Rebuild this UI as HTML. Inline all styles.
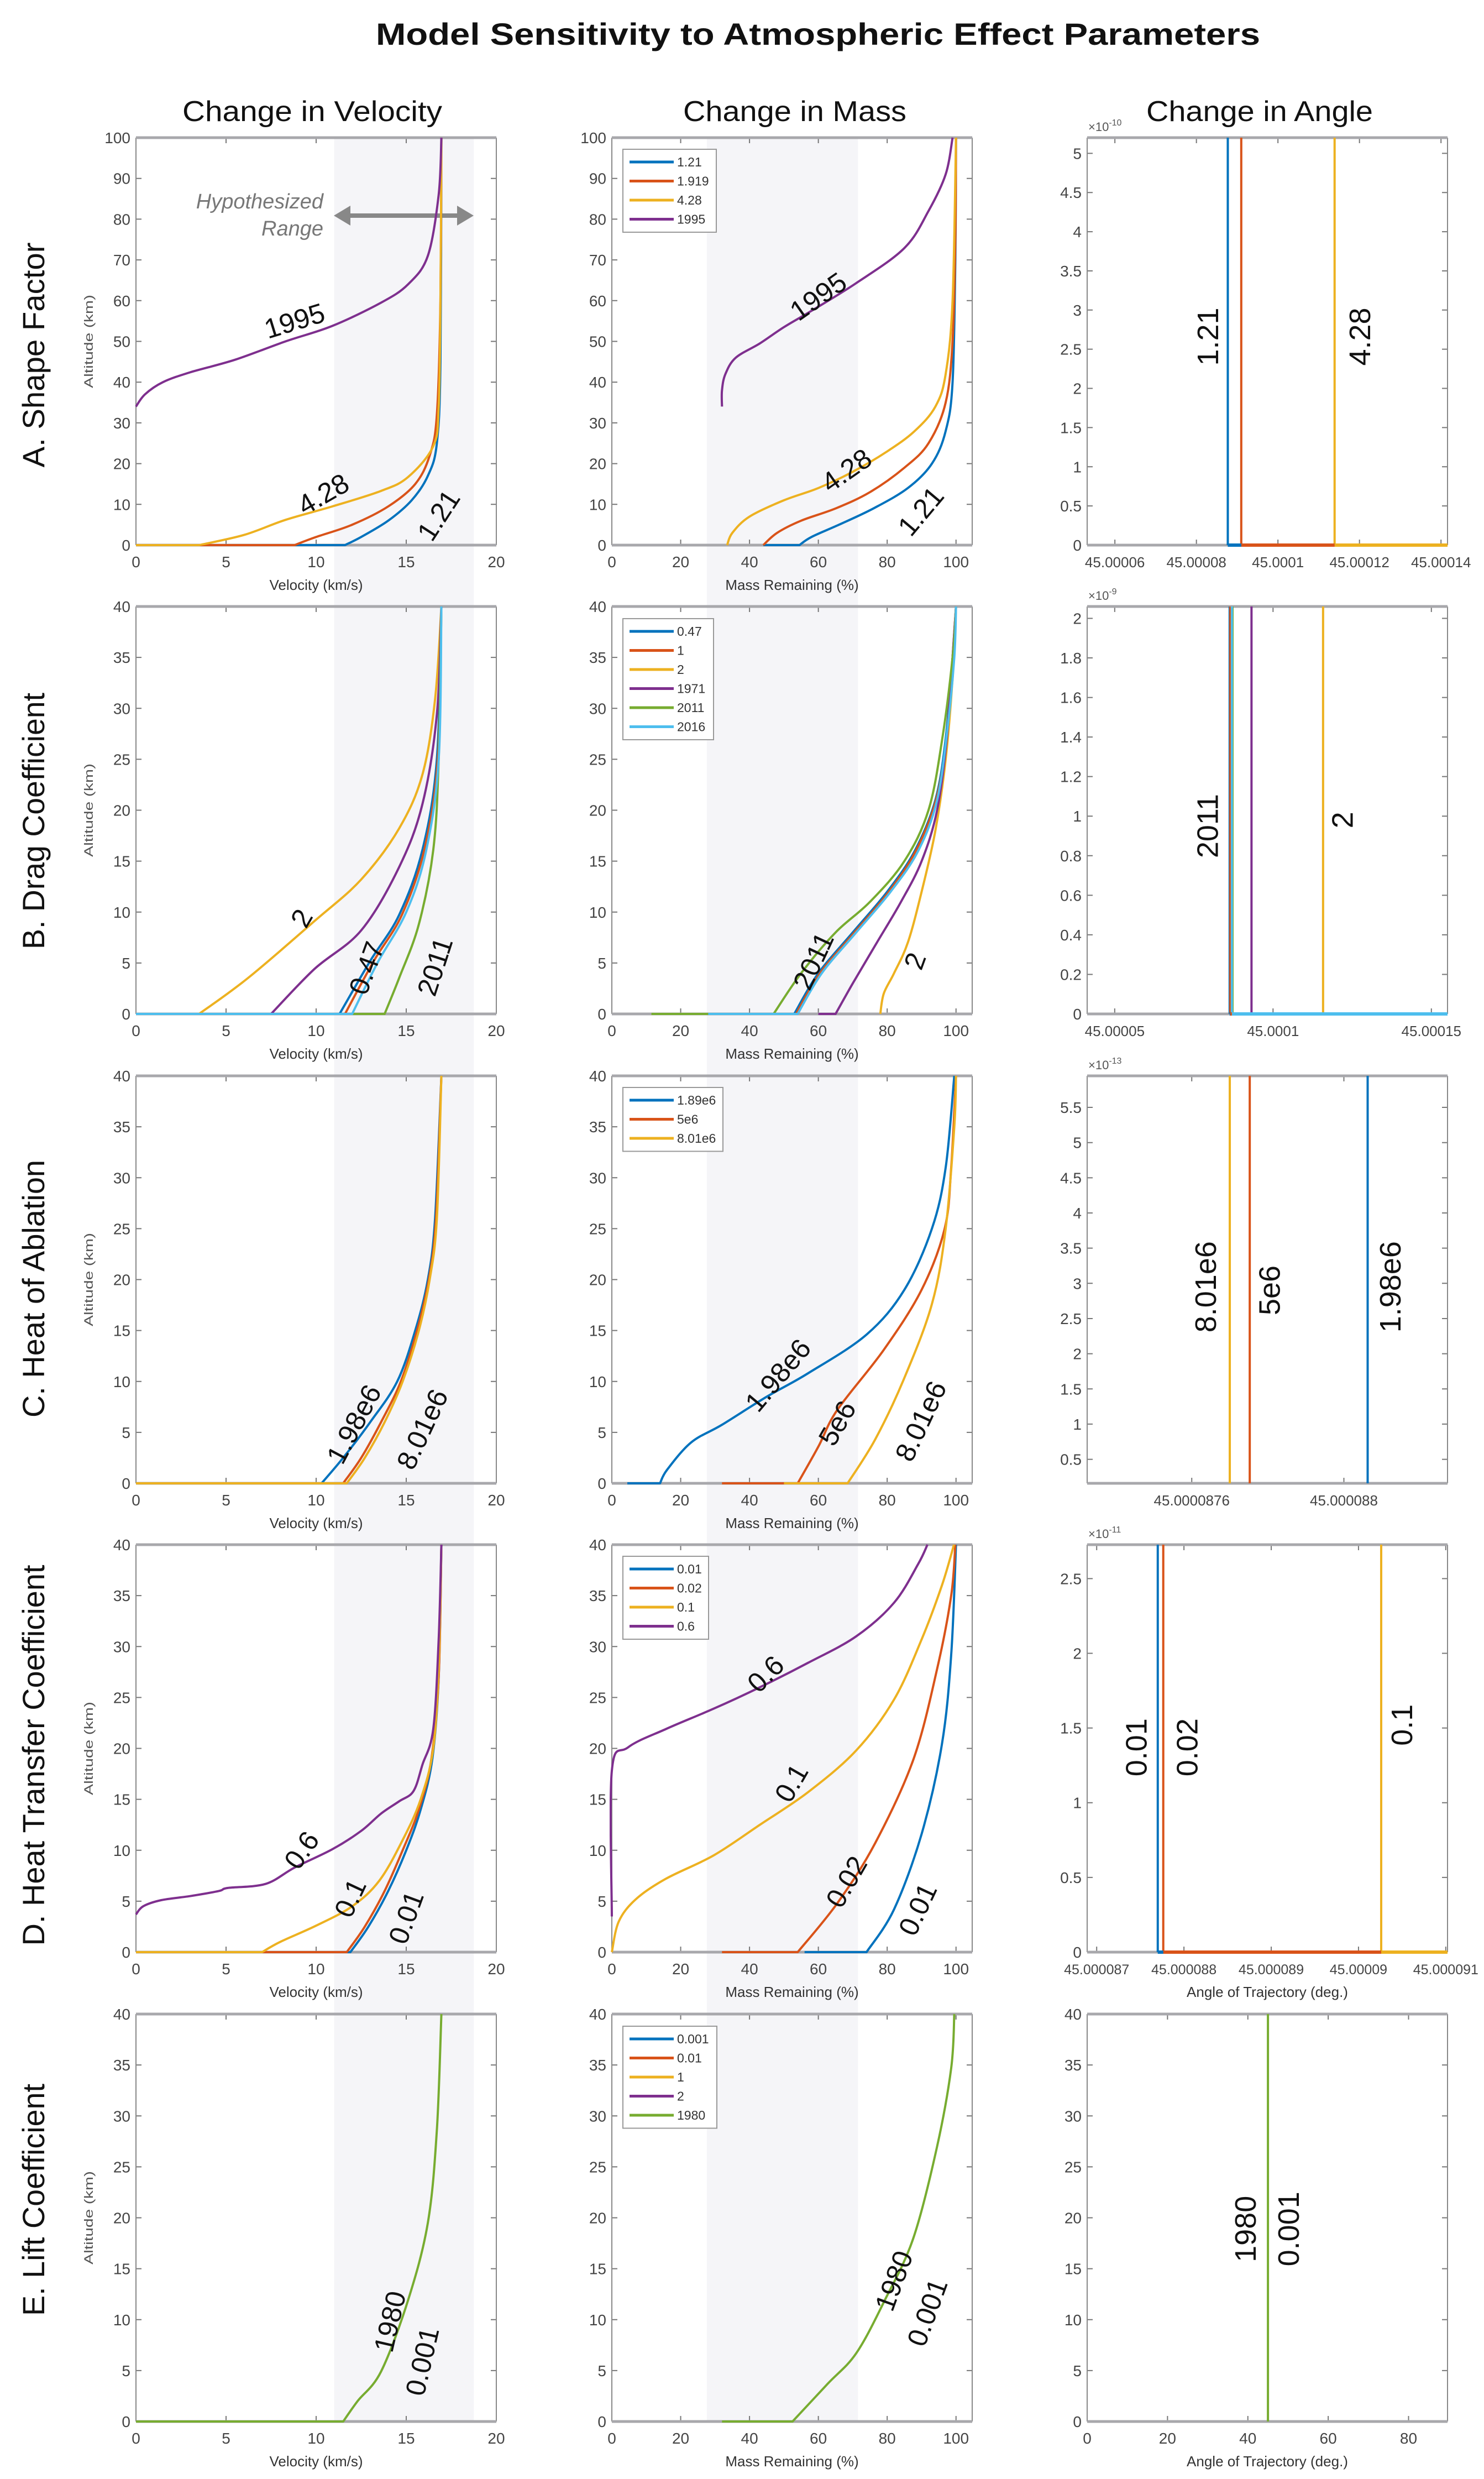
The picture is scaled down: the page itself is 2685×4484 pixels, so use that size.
<!DOCTYPE html>
<html><head><meta charset="utf-8"><title>Model Sensitivity</title>
<style>
html,body{margin:0;padding:0;background:#fff;}
svg{display:block;font-family:"Liberation Sans",Arial,sans-serif;}
</style></head>
<body>
<svg id="fig" xmlns="http://www.w3.org/2000/svg" width="2685" height="4484" viewBox="0 0 2685 4484">
<rect x="0" y="0" width="2685" height="4484" fill="#fff"/>
<g id="bands"></g>
<text x="1480" y="81" text-anchor="middle" font-size="56" font-weight="bold" fill="#111" textLength="1600" lengthAdjust="spacingAndGlyphs">Model Sensitivity to Atmospheric Effect Parameters</text>
<text x="565" y="219" text-anchor="middle" font-size="52" fill="#111" textLength="470" lengthAdjust="spacingAndGlyphs">Change in Velocity</text>
<text x="1438" y="219" text-anchor="middle" font-size="52" fill="#111" textLength="404" lengthAdjust="spacingAndGlyphs">Change in Mass</text>
<text x="2279" y="219" text-anchor="middle" font-size="52" fill="#111" textLength="410" lengthAdjust="spacingAndGlyphs">Change in Angle</text>
<text transform="translate(80,642) rotate(-90)" text-anchor="middle" font-size="56" fill="#111" textLength="407" lengthAdjust="spacingAndGlyphs">A. Shape Factor</text>
<text transform="translate(80,1485) rotate(-90)" text-anchor="middle" font-size="56" fill="#111" textLength="464" lengthAdjust="spacingAndGlyphs">B. Drag Coefficient</text>
<text transform="translate(80,2331) rotate(-90)" text-anchor="middle" font-size="56" fill="#111" textLength="466" lengthAdjust="spacingAndGlyphs">C. Heat of Ablation</text>
<text transform="translate(80,3175) rotate(-90)" text-anchor="middle" font-size="56" fill="#111" textLength="689" lengthAdjust="spacingAndGlyphs">D. Heat Transfer Coefficient</text>
<text transform="translate(80,3979) rotate(-90)" text-anchor="middle" font-size="56" fill="#111" textLength="420" lengthAdjust="spacingAndGlyphs">E. Lift Coefficient</text>
<g>
<text x="585" y="377" text-anchor="end" font-size="38" font-style="italic" fill="#777">Hypothesized</text>
<text x="585" y="426" text-anchor="end" font-size="38" font-style="italic" fill="#777">Range</text>
<line x1="628" y1="390" x2="833" y2="390" stroke="#888" stroke-width="8"/>
<polygon points="604,390 634,372 634,408" fill="#888"/>
<polygon points="857,390 827,372 827,408" fill="#888"/>
</g>
<g id="panels"></g>
</svg>
<script>
// ---------- data ----------
const C={blue:'#0072BD',orange:'#D95319',yellow:'#EDB120',purple:'#7E2F8E',green:'#77AC30',cyan:'#4DBEEE'};
// Row A: shape factor
const aCats=['1.21','1.919','4.28','1995'];
const aVel_121=[[0,0],[11.6,0],[12.5,2],[14,6],[15.3,11],[16.2,17],[16.7,25],[16.9,45],[16.95,100]];
const aVel_1919=[[0,0],[8.8,0],[10,2],[12,5],[14,9.5],[15.5,15],[16.3,22],[16.7,32],[16.9,60],[16.95,100]];
const aVel_428=[[0,0],[3.5,0],[6,2.5],[8.3,6.2],[10.9,9.5],[13.6,13.3],[15.1,16.7],[16.5,24.3],[16.8,33.8],[16.9,60],[16.95,100]];
const aVel_1995=[[0,34],[0.5,37],[1.5,40],[3,42.4],[5.5,45.5],[8.3,50],[10.9,53.8],[13.6,59.5],[15.1,64],[16.2,71],[16.8,86],[16.95,100]];
const aMass_121=[[44,0],[54.5,0],[58,2],[66,5],[76,9],[86,14],[93,20],[97,28],[99,40],[99.8,70],[100,100]];
const aMass_1919=[[44,0],[48,3],[55,6],[65,9],[75,13],[85,19],[92,25],[97,35],[99,50],[99.8,75],[100,100]];
const aMass_428=[[33.5,0],[35,3],[40,7],[50,11],[60,14],[70,18],[80,23],[88,28],[94,34],[97,42],[99,60],[100,100]];
const aMass_1995=[[32,34],[32,38],[33,42],[36,46],[43,49.5],[50,53.5],[58,57.5],[71,64.3],[85,72.9],[92,82],[97,91],[99,100]];
const aAng=[8.77,9.10,11.39];
// Row B: drag coefficient
const bCats=['0.47','1','2','1971','2011','2016'];
const bVel_047=[[0,0],[11.3,0],[13.0,5.2],[14.6,9.7],[15.9,16.1],[16.7,25],[16.95,40]];
const bVel_1=[[0,0],[11.6,0],[13.2,5.2],[14.75,9.7],[16.0,16.1],[16.75,25],[16.95,40]];
const bVel_2=[[0,0],[3.5,0],[6.2,3.5],[9.9,9.1],[12.5,13.2],[14.6,18.2],[15.9,23.5],[16.6,30.9],[16.95,40]];
const bVel_1971=[[0,0],[7.5,0],[9.9,4.4],[12.5,8.2],[14.6,14.4],[15.9,20.6],[16.7,29.4],[16.95,40]];
const bVel_2011=[[0,0],[13.8,0],[14.6,3.5],[15.7,8.8],[16.5,16.1],[16.8,25],[16.95,40]];
const bVel_2016=[[0,0],[12,0],[13.4,5],[15,10],[16.1,16],[16.8,25],[16.95,40]];
const bMass_047=[[53,0],[60,4],[70,8],[80,12],[88,16],[94,21],[97,27],[99,35],[100,40]];
const bMass_1=[[53.5,0],[60.5,4],[70.5,8],[80.5,12],[88.3,16],[94.2,21],[97.2,27],[99,35],[100,40]];
const bMass_2=[[78,0],[79,2],[82,4],[86,7],[90,12],[94,18],[97,25],[99,33],[100,40]];
const bMass_1971=[[60,0],[65,0],[70,3],[77,7],[84,11],[90,15],[94.5,20],[97.3,27],[99,35],[100,40]];
const bMass_2011=[[11.5,0],[47,0],[55,4],[65,8],[75,11],[85,15],[92,20],[96,27],[99,35],[100,40]];
const bMass_2016=[[28,0],[54,0],[61,4],[71,8],[81,12],[89,16],[94.5,21],[97.5,28],[99.5,35],[100,40]];
const bAng=[8.63,8.65,11.58,9.32,8.72,8.70];
// Row C: heat of ablation
const cCats=['1.89e6','5e6','8.01e6'];
const cVel_198=[[0,0],[10.3,0],[11.5,2.5],[13,6],[14.5,10],[15.5,15],[16.2,20],[16.6,26],[16.95,40]];
const cVel_5=[[0,0],[11.5,0],[12.5,2.5],[13.6,6],[14.7,10],[15.6,15],[16.25,20],[16.65,26],[16.95,40]];
const cVel_801=[[0,0],[11.7,0],[12.7,2.5],[13.8,6],[14.8,10],[15.7,15],[16.3,20],[16.7,26],[16.95,40]];
const cMass_198=[[4.5,0],[14,0],[16,1.3],[23,4],[32,5.75],[45,8.5],[57,10.8],[74,14.6],[85,19],[93,25],[97,31],[99.5,40]];
const cMass_5=[[32,0],[54,0],[60,3.6],[65.5,7.2],[79,13.1],[90,19],[96.7,25],[98.6,31],[100,40]];
const cMass_801=[[50,0],[68.5,0],[76.5,4.3],[84.8,10.2],[93,17.6],[97,25],[99.5,35],[100,40]];
const cAng=[8.0625,7.7525,7.7];
// Row D: heat transfer coefficient
const dCats=['0.01','0.02','0.1','0.6'];
const dVel_001=[[0,0],[11.9,0],[12.9,2.5],[14,6],[15,10],[15.8,14],[16.45,19],[16.8,27],[16.95,40]];
const dVel_002=[[0,0],[11.7,0],[12.7,2.5],[13.8,6],[14.8,10],[15.7,14],[16.4,19],[16.8,27],[16.95,40]];
const dVel_01=[[0,0],[7,0],[8,1],[10,2.6],[12,4.5],[13.5,7],[14.8,11],[15.8,15],[16.5,20],[16.8,28],[16.95,40]];
const dVel_06=[[0,3.7],[0.4,4.5],[1.4,5.1],[3,5.5],[4.6,6],[5.1,6.3],[7.2,6.7],[8.8,8.3],[10.9,10.1],[12.5,11.9],[13.6,13.6],[14.6,14.8],[15.4,15.8],[15.9,18.4],[16.5,21.9],[16.8,30.7],[16.95,40]];
const dMass_001=[[56,0],[74,0],[82,4.2],[90,11.6],[95.9,20.4],[98.6,29.2],[100,40]];
const dMass_002=[[32,0],[54,0],[65.5,4.8],[76.5,10.7],[87.6,18.9],[94.5,27.8],[98.6,35],[99.8,40]];
const dMass_01=[[0,0],[2,3],[7,5.2],[15.7,7.2],[29.6,9.5],[43,12.5],[57,15.7],[71,19.8],[82,24.8],[90,30.7],[95.9,36],[99.4,40]];
const dMass_06=[[0,3.5],[0,17.8],[4.7,20.1],[15.7,21.9],[29.6,23.9],[43,26],[57,28.4],[71,31],[82,34.3],[89,38.1],[91.7,40]];
const dAng=[7.70,7.763,10.26];
// Row E: lift coefficient
const eCats=['0.001','0.01','1','2','1980'];
const eVel_1980=[[0,0],[11.5,0],[12.3,2],[13.6,4.9],[15.1,11.9],[16.2,19.5],[16.7,28.6],[16.95,40]];
const eMass_1980=[[32,0],[52.5,0],[62.7,3.7],[71,6.7],[79.3,11.9],[87.6,18],[94.5,27],[98.6,34.7],[99.5,40]];
const eAng=[45];
// tick arrays
const ticksVel=[0,5,10,15,20];
const ticksMass=[0,20,40,60,80,100];
const ticksAlt100=[0,10,20,30,40,50,60,70,80,90,100];
const ticksAlt40=[0,5,10,15,20,25,30,35,40];
const aAngTicks=[6,8,10,12,14], aAngLabels=['45.00006','45.00008','45.0001','45.00012','45.00014'];
const aAngY=[0,0.5,1,1.5,2,2.5,3,3.5,4,4.5,5];
const bAngTicks=[5,10,15], bAngLabels=['45.00005','45.0001','45.00015'];
const bAngY=[0,0.2,0.4,0.6,0.8,1,1.2,1.4,1.6,1.8,2];
const cAngTicks=[7.6,8.0], cAngLabels=['45.0000876','45.000088'];
const cAngY=[0.5,1,1.5,2,2.5,3,3.5,4,4.5,5,5.5];
const dAngTicks=[7,8,9,10,11], dAngLabels=['45.000087','45.000088','45.000089','45.00009','45.000091'];
const dAngY=[0,0.5,1,1.5,2,2.5];
const eAngTicks=[0,20,40,60,80];

// ---------- drawing ----------
const NS='http://www.w3.org/2000/svg';
const svg=document.getElementById('fig');
const root=document.getElementById('panels');
const rowTops=[249,1097,1946,2794,3643], colLefts=[246,1107,1967], W=652, H=737;
function mk(tag,attrs,parent){const e=document.createElementNS(NS,tag);for(const k in attrs)e.setAttribute(k,attrs[k]);(parent||root).appendChild(e);return e;}
function fmt(v){return String(Math.round(v*1000)/1000);}

const bandsG=document.getElementById('bands');
[[0,11.0,18.75,20],[1,27.6,71.5,104.7]].forEach(([c,a,b,mx])=>{
  const x0=colLefts[c];
  const r=mk('rect',{x:x0+a/mx*W,y:249,width:(b-a)/mx*W,height:4378-249,fill:'#f5f5f8'},bandsG);
  
  
});

let clipId=0;
function panel(r,c,cfg){
  const x0=colLefts[c],y0=rowTops[r];
  const g=mk('g',{});
  
  
  const sx=v=>x0+(v-cfg.xd[0])/(cfg.xd[1]-cfg.xd[0])*W;
  const sy=v=>y0+H-(v-cfg.yd[0])/(cfg.yd[1]-cfg.yd[0])*H;
  cfg.xt.forEach((t,i)=>{
    const X=sx(t);
    const tk=mk('path',{d:`M${X},${y0+H}v-10M${X},${y0}v10`,stroke:'#777','stroke-width':2},g);
    
    
    const tl=mk('text',{x:X,y:y0+H+40,'text-anchor':'middle','font-size':cfg.xfs||28,fill:'#444'},g);
    
    
    tl.textContent=cfg.xl?cfg.xl[i]:fmt(t);
  });
  cfg.yt.forEach((t,i)=>{
    const Y=sy(t);
    const tk=mk('path',{d:`M${x0},${Y}h10M${x0+W},${Y}h-10`,stroke:'#777','stroke-width':2},g);
    
    
    const tl=mk('text',{x:x0-10,y:Y+10,'text-anchor':'end','font-size':28,fill:'#444'},g);
    
    
    tl.textContent=fmt(t);
  });
  const sides=mk('path',{d:`M${x0},${y0}V${y0+H}M${x0+W},${y0}V${y0+H}`,stroke:'#888','stroke-width':2,fill:'none'},g);
  
  
  const tb=mk('path',{d:`M${x0},${y0}H${x0+W}M${x0},${y0+H}H${x0+W}`,stroke:'#a8a8ac','stroke-width':5,fill:'none'},g);
  
  
  const id='clip'+(clipId++);
  const cp=mk('clipPath',{id:id},g);
  mk('rect',{x:x0-4,y:y0-4,width:W+8,height:H+8},cp);
  const sg=mk('g',{'clip-path':`url(#${id})`},g);
  
  
  if(cfg.xlabel){
    const xl=mk('text',{x:x0+W/2,y:y0+H+81,'text-anchor':'middle','font-size':26,fill:'#333'},g);
    
    
    xl.textContent=cfg.xlabel;
  }
  if(cfg.ylabel){
    const yl=mk('text',{transform:`translate(${x0-78},${y0+H/2}) rotate(-90)`,'text-anchor':'middle','font-size':22,fill:'#555',textLength:169,lengthAdjust:'spacingAndGlyphs'},g);
    
    
    yl.textContent=cfg.ylabel;
  }
  if(cfg.exp){
    const ex=mk('text',{x:x0+2,y:y0-12,'font-size':22,fill:'#555'},g);
    
    
    ex.textContent='×10';
    const sup=mk('tspan',{dy:-10,'font-size':16},ex);
    sup.textContent=cfg.exp;
  }
  return {sx,sy,g,sg,x0,y0};
}
// smooth path through points (Catmull-Rom), straight for flat zero segments
function smoothPath(pts){
  let d='M'+pts[0][0].toFixed(1)+','+pts[0][1].toFixed(1);
  for(let i=0;i<pts.length-1;i++){
    const p0=pts[i-1]||pts[i],p1=pts[i],p2=pts[i+1],p3=pts[i+2]||p2;
    if(Math.abs(p1[1]-p2[1])<0.5){d+='L'+p2[0].toFixed(1)+','+p2[1].toFixed(1);continue;}
    const q0=(Math.abs(p0[1]-p1[1])<0.5)?p1:p0;
    const c1=[p1[0]+(p2[0]-q0[0])/6,p1[1]+(p2[1]-q0[1])/6];
    const c2=[p2[0]-(p3[0]-p1[0])/6,p2[1]-(p3[1]-p1[1])/6];
    d+='C'+c1[0].toFixed(1)+','+c1[1].toFixed(1)+' '+c2[0].toFixed(1)+','+c2[1].toFixed(1)+' '+p2[0].toFixed(1)+','+p2[1].toFixed(1);
  }
  return d;
}
function curve(P,data,color,name){
  const pts=data.map(p=>[P.sx(p[0]),P.sy(p[1])]);
  const e=mk('path',{d:smoothPath(pts),fill:'none',stroke:color,'stroke-width':4,'stroke-linejoin':'round'},P.sg);
  
  
}
function vlines(P,xs,colors,cats,flat){
  xs.forEach((v,i)=>{
    const X=P.sx(v);
    const e=mk('line',{x1:X,x2:X,y1:P.y0,y2:P.y0+H,stroke:colors[i],'stroke-width':4},P.sg);
    
    
  });
  if(flat) xs.forEach((v,i)=>{
    const f=mk('line',{x1:P.sx(v),x2:P.x0+W,y1:P.sy(0),y2:P.sy(0),stroke:colors[i],'stroke-width':6},P.sg);
    
    
  });
}
function label(P,x,y,rot,txt,fs){
  const t=mk('text',{transform:`translate(${P.sx(x).toFixed(1)},${P.sy(y).toFixed(1)}) rotate(${rot})`,'text-anchor':'middle','dominant-baseline':'central','font-size':fs||50,fill:'#111'},P.g);
  
  
  t.textContent=txt;
}
function legend(x,y,w,cats,colors){
  const g=mk('g',{});
  
  
  const h=cats.length*34.5+12;
  const bx=mk('rect',{x:x,y:y,width:w,height:h,fill:'#fff',stroke:'#999','stroke-width':2},g);
  
  
  cats.forEach((c,i)=>{
    const yy=y+23+i*34.5;
    const ln=mk('line',{x1:x+12,x2:x+92,y1:yy,y2:yy,stroke:colors[i],'stroke-width':5},g);
    
    
    const tx=mk('text',{x:x+98,y:yy+8,'font-size':23,fill:'#333'},g);
    
    
    tx.textContent=c;
  });
}

// ---- Row A ----
let P=panel(0,0,{name:'panel-a-velocity',xd:[0,20],yd:[0,100],xt:ticksVel,yt:ticksAlt100,xlabel:'Velocity (km/s)',ylabel:'Altitude (km)'});
curve(P,aVel_121,C.blue,'curve-1.21');curve(P,aVel_1919,C.orange,'curve-1.919');curve(P,aVel_428,C.yellow,'curve-4.28');curve(P,aVel_1995,C.purple,'curve-1995');
label(P,8.8,55,-17,'1995');label(P,10.4,12.5,-30,'4.28');label(P,16.8,7.3,-57,'1.21');
P=panel(0,1,{name:'panel-a-mass',xd:[0,104.7],yd:[0,100],xt:ticksMass,yt:ticksAlt100,xlabel:'Mass Remaining (%)'});
curve(P,aMass_121,C.blue,'curve-1.21');curve(P,aMass_1919,C.orange,'curve-1.919');curve(P,aMass_428,C.yellow,'curve-4.28');curve(P,aMass_1995,C.purple,'curve-1995');
label(P,60,61,-35,'1995');label(P,68.2,18.3,-35,'4.28');label(P,89.8,8.3,-50,'1.21');
legend(1127,270,169,aCats,[C.blue,C.orange,C.yellow,C.purple]);
P=panel(0,2,{name:'panel-a-angle',xd:[5.32,14.16],yd:[0,5.2],xt:aAngTicks,xl:aAngLabels,xfs:26,yt:aAngY,exp:'-10'});
vlines(P,aAng,[C.blue,C.orange,C.yellow],aCats,true);
label(P,8.29,2.66,-90,'1.21',54);label(P,12.02,2.66,-90,'4.28',54);

// ---- Row B ----
const bCol=[C.blue,C.orange,C.yellow,C.purple,C.green,C.cyan];
P=panel(1,0,{name:'panel-b-velocity',xd:[0,20],yd:[0,40],xt:ticksVel,yt:ticksAlt40,xlabel:'Velocity (km/s)',ylabel:'Altitude (km)'});
[bVel_047,bVel_1,bVel_2,bVel_1971,bVel_2011,bVel_2016].forEach((s,i)=>curve(P,s,bCol[i],'curve-'+bCats[i]));
label(P,9.2,9.4,-60,'2');label(P,12.8,4.5,-70,'0.47');label(P,16.6,4.65,-72,'2011');
P=panel(1,1,{name:'panel-b-mass',xd:[0,104.7],yd:[0,40],xt:ticksMass,yt:ticksAlt40,xlabel:'Mass Remaining (%)'});
[bMass_047,bMass_1,bMass_2,bMass_1971,bMass_2011,bMass_2016].forEach((s,i)=>curve(P,s,bCol[i],'curve-'+bCats[i]));
label(P,58.6,5.2,-65,'2011');label(P,88.1,5.2,-70,'2');
legend(1127,1119,164,bCats,bCol);
P=panel(1,2,{name:'panel-b-angle',xd:[4.13,15.51],yd:[0,2.06],xt:bAngTicks,xl:bAngLabels,xfs:26,yt:bAngY,exp:'-9'});
vlines(P,bAng,bCol,bCats,true);
label(P,7.94,0.95,-90,'2011',54);label(P,12.2,0.98,-90,'2',54);

// ---- Row C ----
const cCol=[C.blue,C.orange,C.yellow];
P=panel(2,0,{name:'panel-c-velocity',xd:[0,20],yd:[0,40],xt:ticksVel,yt:ticksAlt40,xlabel:'Velocity (km/s)',ylabel:'Altitude (km)'});
[cVel_198,cVel_5,cVel_801].forEach((s,i)=>curve(P,s,cCol[i],'curve-'+cCats[i]));
label(P,12.1,5.8,-62,'1.98e6');label(P,15.9,5.3,-65,'8.01e6');
P=panel(2,1,{name:'panel-c-mass',xd:[0,104.7],yd:[0,40],xt:ticksMass,yt:ticksAlt40,xlabel:'Mass Remaining (%)'});
[cMass_198,cMass_5,cMass_801].forEach((s,i)=>curve(P,s,cCol[i],'curve-'+cCats[i]));
label(P,48.3,10.6,-50,'1.98e6');label(P,65.5,5.9,-60,'5e6');label(P,89.8,6.1,-65,'8.01e6');
legend(1127,1967,181,cCats,cCol);
P=panel(2,2,{name:'panel-c-angle',xd:[7.325,8.2725],yd:[0.159,5.948],xt:cAngTicks,xl:cAngLabels,xfs:26,yt:cAngY,exp:'-13'});
vlines(P,cAng,cCol,cCats,false);
label(P,7.6375,2.95,-90,'8.01e6',54);label(P,7.805,2.9,-90,'5e6',54);label(P,8.1225,2.95,-90,'1.98e6',54);

// ---- Row D ----
const dCol=[C.blue,C.orange,C.yellow,C.purple];
P=panel(3,0,{name:'panel-d-velocity',xd:[0,20],yd:[0,40],xt:ticksVel,yt:ticksAlt40,xlabel:'Velocity (km/s)',ylabel:'Altitude (km)'});
[dVel_001,dVel_002,dVel_01,dVel_06].forEach((s,i)=>curve(P,s,dCol[i],'curve-'+dCats[i]));
label(P,9.2,10,-55,'0.6');label(P,11.9,5.3,-65,'0.1');label(P,15.0,3.4,-70,'0.01');
P=panel(3,1,{name:'panel-d-mass',xd:[0,104.7],yd:[0,40],xt:ticksMass,yt:ticksAlt40,xlabel:'Mass Remaining (%)'});
[dMass_001,dMass_002,dMass_01,dMass_06].forEach((s,i)=>curve(P,s,dCol[i],'curve-'+dCats[i]));
label(P,44.7,27.3,-45,'0.6');label(P,52.2,16.6,-60,'0.1');label(P,68.2,6.9,-60,'0.02');label(P,88.9,4.2,-65,'0.01');
legend(1127,2815,155,dCats,dCol);
P=panel(3,2,{name:'panel-d-angle',xd:[6.891,11.02],yd:[0,2.727],xt:dAngTicks,xl:dAngLabels,xfs:25,yt:dAngY,exp:'-11',xlabel:'Angle of Trajectory (deg.)'});
vlines(P,dAng,[C.blue,C.orange,C.yellow],dCats,true);
label(P,7.458,1.37,-90,'0.01',54);label(P,8.04,1.37,-90,'0.02',54);label(P,10.5,1.52,-90,'0.1',54);

// ---- Row E ----
const eCol=[C.blue,C.orange,C.yellow,C.purple,C.green];
P=panel(4,0,{name:'panel-e-velocity',xd:[0,20],yd:[0,40],xt:ticksVel,yt:ticksAlt40,xlabel:'Velocity (km/s)',ylabel:'Altitude (km)'});
curve(P,eVel_1980,C.green,'curve-1980');
label(P,14.1,9.8,-77,'1980');label(P,15.9,5.9,-77,'0.001');
P=panel(4,1,{name:'panel-e-mass',xd:[0,104.7],yd:[0,40],xt:ticksMass,yt:ticksAlt40,xlabel:'Mass Remaining (%)'});
curve(P,eMass_1980,C.green,'curve-1980');
label(P,82,13.8,-70,'1980');label(P,91.7,10.7,-70,'0.001');
legend(1127,3665,170,eCats,eCol);
P=panel(4,2,{name:'panel-e-angle',xd:[0,89.7],yd:[0,40],xt:eAngTicks,yt:ticksAlt40,xlabel:'Angle of Trajectory (deg.)'});
vlines(P,eAng,[C.green],['1980'],false);
label(P,39.5,18.9,-90,'1980',54);label(P,50.2,18.9,-90,'0.001',54);
</script>
</body></html>
